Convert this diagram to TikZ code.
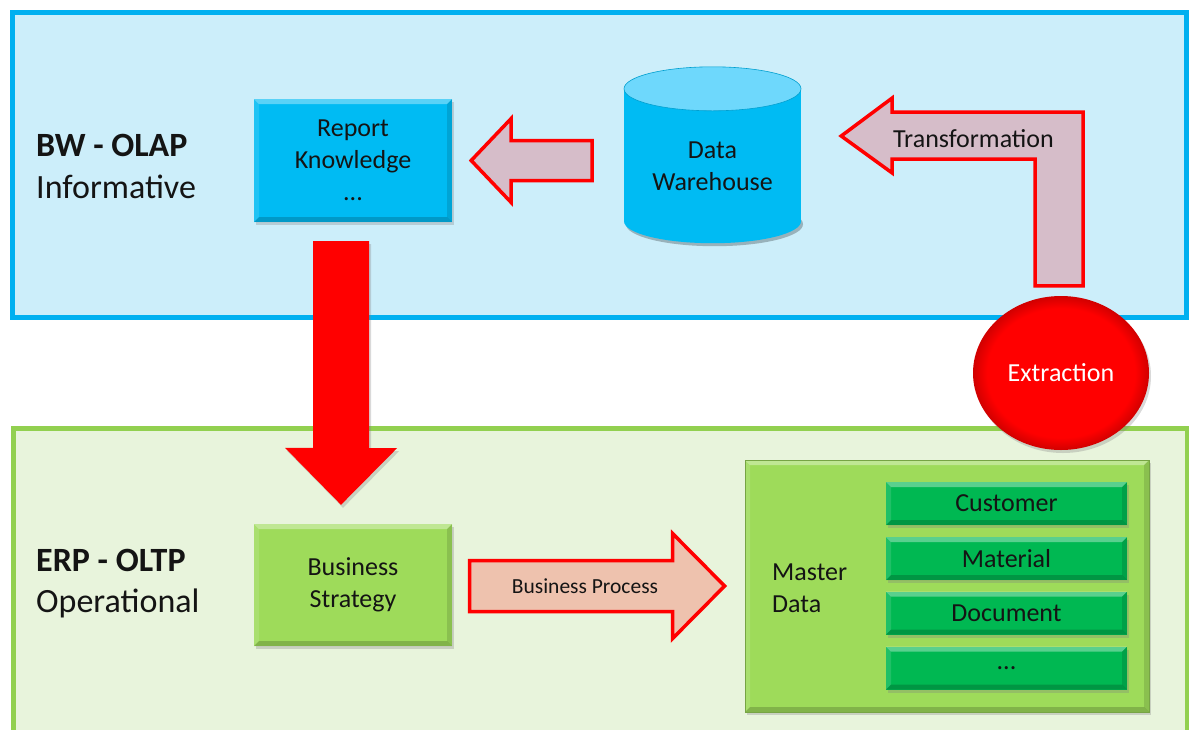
\documentclass[tikz,border=0pt]{standalone}
\usepackage{fontspec}
\setmainfont{Carlito}
\usetikzlibrary{calc,shapes.geometric,shadows}

\definecolor{bwline}{HTML}{00B0F0}
\definecolor{bwfill}{HTML}{CCEEFA}
\definecolor{erpline}{HTML}{92D050}
\definecolor{erpfill}{HTML}{E8F4DC}
\definecolor{skyblue}{HTML}{00BBF3}
\definecolor{cyltop}{HTML}{6ED8FC}
\definecolor{mauve}{HTML}{D6BDC9}
\definecolor{salmon}{HTML}{EEC2AE}
\definecolor{leaf}{HTML}{9EDB5A}
\definecolor{emerald}{HTML}{00B852}
\definecolor{pure}{HTML}{FF0000}
\definecolor{ink}{HTML}{141414}

\newcommand\dgboxfont{\fontsize{26}{32}\selectfont}
\newcommand\dglabelfont{\fontsize{34}{40}\selectfont}

% red disc: flat centre, slightly darker rim
\pgfdeclareradialshading{redball}{\pgfpoint{0bp}{0bp}}{color(0bp)=(pure); color(21bp)=(pure); color(25bp)=(pure!82!black); color(50bp)=(pure!82!black)}

\tikzset{
  bevel/.style={path picture={
      \fill[white,opacity=.35] (path picture bounding box.north west) -- (path picture bounding box.north east)
        -- ([shift={(-5pt,-5pt)}]path picture bounding box.north east) -- ([shift={(5pt,-5pt)}]path picture bounding box.north west) -- cycle;
      \fill[white,opacity=.12] (path picture bounding box.north west) -- (path picture bounding box.south west)
        -- ([shift={(5pt,5pt)}]path picture bounding box.south west) -- ([shift={(5pt,-5pt)}]path picture bounding box.north west) -- cycle;
      \fill[black,opacity=.18] (path picture bounding box.south west) -- (path picture bounding box.south east)
        -- ([shift={(-5pt,5pt)}]path picture bounding box.south east) -- ([shift={(5pt,5pt)}]path picture bounding box.south west) -- cycle;
      \fill[black,opacity=.12] (path picture bounding box.north east) -- (path picture bounding box.south east)
        -- ([shift={(-5pt,5pt)}]path picture bounding box.south east) -- ([shift={(-5pt,-5pt)}]path picture bounding box.north east) -- cycle;
  }},
  softshadow/.style={drop shadow={opacity=.3,shadow xshift=2pt,shadow yshift=-3pt}},
  box/.style={rectangle, draw=none, inner sep=0pt, align=center, font=\dgboxfont, text=ink, softshadow, bevel},
  blockarrow/.style={draw=pure, line width=3.5pt, line join=miter},
  lefttext/.style={anchor=base west, inner sep=0pt, text=ink},
}

\begin{document}
\begin{tikzpicture}[x=1pt,y=-1pt]
\useasboundingbox (0,0) rectangle (1189,729);

% layer panels
\draw[line width=5pt, draw=bwline, fill=bwfill] (12.5,12.5) rectangle (1186.5,317.5);
\draw[line width=5pt, draw=erpline, fill=erpfill] (13.5,428) rectangle (1187,760);

% layer captions
\node[lefttext, font=\bfseries\dglabelfont] (bwname) at (36,156) {BW - OLAP};
\node[lefttext, font=\dglabelfont] (bwrole) at (36,198) {Informative};
\node[lefttext, font=\bfseries\dglabelfont] (erpname) at (36,571) {ERP - OLTP};
\node[lefttext, font=\dglabelfont] (erprole) at (36,612) {Operational};

% BW side
\node[box, fill=skyblue, minimum width=198pt, minimum height=123pt] (report) at (353,160.5) {Report\\Knowledge\\...};

\node[minimum width=177pt, minimum height=176pt, inner sep=0pt] (dw) at (712.5,155) {};
\fill[black,opacity=.25] ($(dw.south)+(2,-19)$) ellipse [x radius=88.5, y radius=22];
\fill[skyblue] ($(dw.north west)+(0,22)$) rectangle ($(dw.south east)+(0,-22)$);
\fill[skyblue] ($(dw.south)+(0,-22)$) ellipse [x radius=88.5, y radius=22];
\filldraw[fill=cyltop, draw=skyblue!85!black, line width=.6pt] ($(dw.north)+(0,22)$) ellipse [x radius=88.5, y radius=22];
\node[inner sep=0pt, align=center, font=\dgboxfont, text=ink] (dwlabel) at (712.5,166) {Data\\Warehouse};

% ERP side
\node[box, fill=leaf, minimum width=198pt, minimum height=122pt] (strategy) at (353,585) {Business\\Strategy};

\node[box, fill=leaf, draw=leaf!75!black, line width=.8pt, minimum width=404pt, minimum height=252pt] (master) at (947,586) {};
\node[anchor=west, align=left, inner sep=0pt, font=\dgboxfont, text=ink] (masterlabel) at (772,588) {Master\\Data};
\node[box, fill=emerald, minimum width=241pt, minimum height=43pt] (customer) at (1006.5,503.5) {Customer};
\node[box, fill=emerald, minimum width=241pt, minimum height=43pt] (material) at (1006.5,558.5) {Material};
\node[box, fill=emerald, minimum width=241pt, minimum height=43pt] (document) at (1006.5,613) {Document};
\node[box, fill=emerald, minimum width=241pt, minimum height=43pt] (moredata) at (1006.5,668) {...};

% extraction step
\node[ellipse, minimum width=176pt, minimum height=154pt, inner sep=0pt, shading=redball, softshadow,
      text=white, font=\dgboxfont] (extr) at (1061,373) {Extraction};

% Data Warehouse -> Report
\coordinate (kntip) at ($(report.east)+(19,0)$);
\filldraw[blockarrow, fill=mauve] (kntip) -- ++(40,-42) -- ++(0,22) -- ++(81,0) -- ++(0,40) -- ++(-81,0) -- ++(0,22) -- cycle;

% Extraction -> Data Warehouse
\coordinate (trtip) at ($(dw.east)+(40,-19)$);
\coordinate (trfoot) at ($(extr.north)+(-2,-10)$);
\filldraw[blockarrow, fill=mauve] (trtip) -- ++(51,-38) -- ++(0,14) -| ($(trfoot)+(24,0)$)
  -- ($(trfoot)+(-24,0)$) |- ($(trtip)+(51,23)$) -- ++(0,14) -- cycle;
\node[anchor=base, inner sep=0pt, font=\dgboxfont, text=ink] (trlabel) at (973.5,147) {Transformation};

% Report -> Business Strategy
\coordinate (dtop) at ($(report.south)+(-12,19)$);
\coordinate (dtip) at ($(strategy.north)+(-12,-19)$);
\fill[pure, softshadow] (dtip) -- ++(-56,-57) -- ++(28,0) |- ($(dtop)+(28,0)$) -- ++(0,207) -- ++(28,0) -- cycle;

% Business Strategy -> Master Data
\coordinate (bptip) at ($(master.west)+(-20,0)$);
\filldraw[blockarrow, fill=salmon] (bptip) -- ++(-52,-52.5) -- ++(0,27) -- ++(-203,0) -- ++(0,51) -- ++(203,0) -- ++(0,27) -- cycle;
\node[anchor=base, inner sep=0pt, font=\fontsize{21.5}{26}\selectfont, text=ink] (bplabel) at (585,593) {Business Process};
\end{tikzpicture}
\end{document}
